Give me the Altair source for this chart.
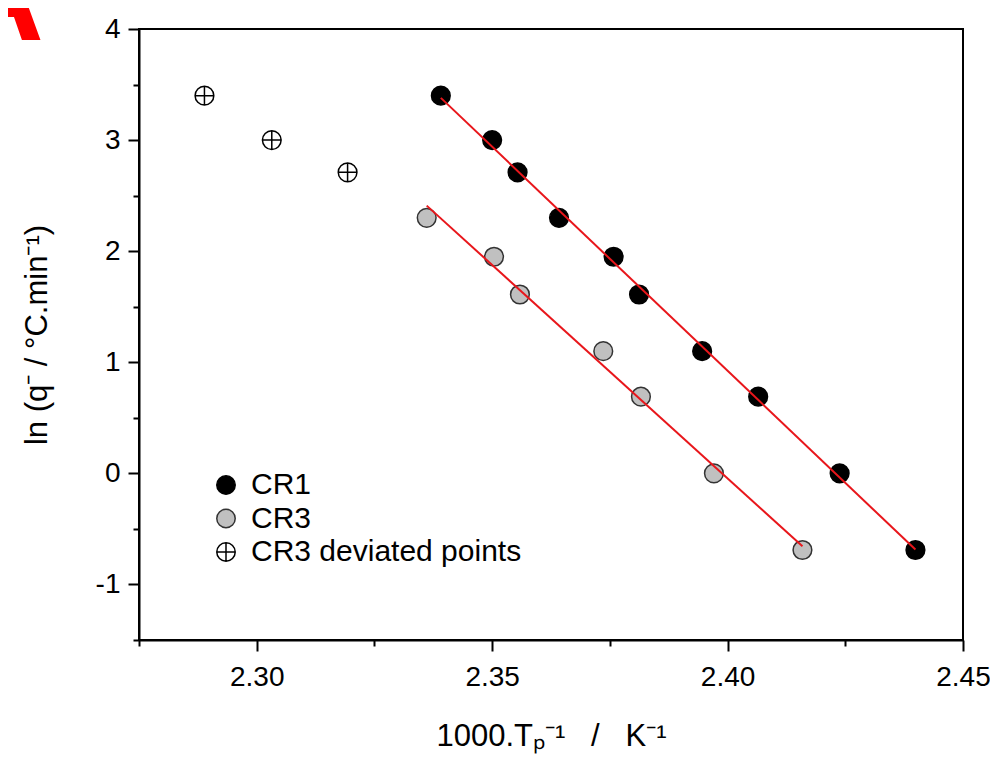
import altair as alt
import pandas as pd

# ---- data ----
cr1_x = [2.3391, 2.3500, 2.3554, 2.3642, 2.3758, 2.3812, 2.3946, 2.4065, 2.4238, 2.4399]
cr1_y = [3.40, 3.00, 2.71, 2.30, 1.95, 1.61, 1.10, 0.69, 0.00, -0.69]
cr3_x = [2.3361, 2.3504, 2.3559, 2.3736, 2.3816, 2.3971, 2.4159]
cr3_y = [2.30, 1.95, 1.61, 1.10, 0.69, 0.00, -0.69]
dev_x = [2.2889, 2.3032, 2.3193]
dev_y = [3.40, 3.00, 2.71]

series_names = ["CR1", "CR3", "CR3 deviated points"]
x_ticks = [2.275, 2.30, 2.325, 2.35, 2.375, 2.40, 2.425, 2.45]
y_ticks = [-1.5, -1, -0.5, 0, 0.5, 1, 1.5, 2, 2.5, 3, 3.5, 4]

rows = []
for xs, ys, name in [(cr1_x, cr1_y, series_names[0]),
                     (cr3_x, cr3_y, series_names[1]),
                     (dev_x, dev_y, series_names[2])]:
    for a, b in zip(xs, ys):
        rows.append({"x": a, "y": b, "series": name})
df = pd.DataFrame(rows)

FONT = "Liberation Sans"
NB = "\u00a0"
circled_plus = "M-1,0A1,1,0,1,1,1,0A1,1,0,1,1,-1,0ZM-1,0L1,0M0,-1L0,1"

x_major = "abs(datum.value*20 - round(datum.value*20)) < 0.001"
y_major = "abs(datum.value - round(datum.value)) < 0.001"

x_enc = alt.X(
    "x:Q",
    scale=alt.Scale(domain=[2.275, 2.45], nice=False, zero=False),
    axis=alt.Axis(
        values=x_ticks,
        labelExpr=f"{x_major} ? format(datum.value, '.2f') : ''",
        tickSize={"condition": {"test": x_major, "value": 11}, "value": 6},
        grid=False,
        labelOverlap=False,
        labelFlush=False,
        labelPadding=12,
        title=f"1000.Tₚ⁻¹{NB*3}/{NB*3}K⁻¹",
        titlePadding=30,
    ),
)
y_enc = alt.Y(
    "y:Q",
    scale=alt.Scale(domain=[-1.5, 4], nice=False, zero=False),
    axis=alt.Axis(
        values=y_ticks,
        labelExpr=f"{y_major} ? '' + round(datum.value) : ''",
        tickSize={"condition": {"test": y_major, "value": 11}, "value": 6},
        grid=False,
        labelOverlap=False,
        labelFlush=False,
        labelPadding=8,
        title="ln (q⁻ / °C.min⁻¹)",
        titlePadding=42,
    ),
)

leg = alt.Legend(
    orient="none", legendX=72, legendY=441, title=None,
    labelFont=FONT, labelFontSize=30, labelColor="black", labelLimit=500,
    symbolSize=340, symbolStrokeWidth=1.5, rowPadding=3.5,
    labelOffset=10, padding=0,
)

points = alt.Chart(df).mark_point(filled=True, size=350, strokeWidth=1.5, opacity=1).encode(
    x=x_enc,
    y=y_enc,
    shape=alt.Shape("series:N", scale=alt.Scale(domain=series_names, range=["circle", "circle", circled_plus]), legend=leg),
    fill=alt.Fill("series:N", scale=alt.Scale(domain=series_names, range=["black", "#c0c0c0", "white"]), legend=leg),
    stroke=alt.Stroke("series:N", scale=alt.Scale(domain=series_names, range=["black", "#333333", "black"]), legend=leg),
)

fits = alt.Chart(df).transform_filter(
    "datum.series != 'CR3 deviated points'"
).transform_regression(
    "x", "y", groupby=["series"]
).mark_line(color="#e8161b", strokeWidth=2).encode(
    x=alt.X("x:Q"),
    y=alt.Y("y:Q"),
    detail="series:N",
)

panel_letter = alt.Chart(pd.DataFrame({"t": ["A"]})).mark_text(
    align="right", baseline="alphabetic", fontSize=130, fontWeight="bold",
    color="#ff0000", font=FONT,
).encode(x=alt.value(-95), y=alt.value(11), text="t:N")

chart = alt.layer(points, fits, panel_letter).properties(
    width=824, height=611,
    autosize=alt.AutoSizeParams(type="none"),
    padding={"left": 131, "top": 21, "right": 27, "bottom": 116},
).configure_view(
    stroke="black", strokeWidth=2,
).configure_axis(
    domainColor="black", domainWidth=2, tickColor="black", tickWidth=2,
    labelFont=FONT, labelFontSize=28, labelColor="black",
    titleFont=FONT, titleFontSize=31, titleFontWeight="normal", titleColor="black",
)

chart.save("out.html", embed_options={"renderer": "svg", "actions": False})
